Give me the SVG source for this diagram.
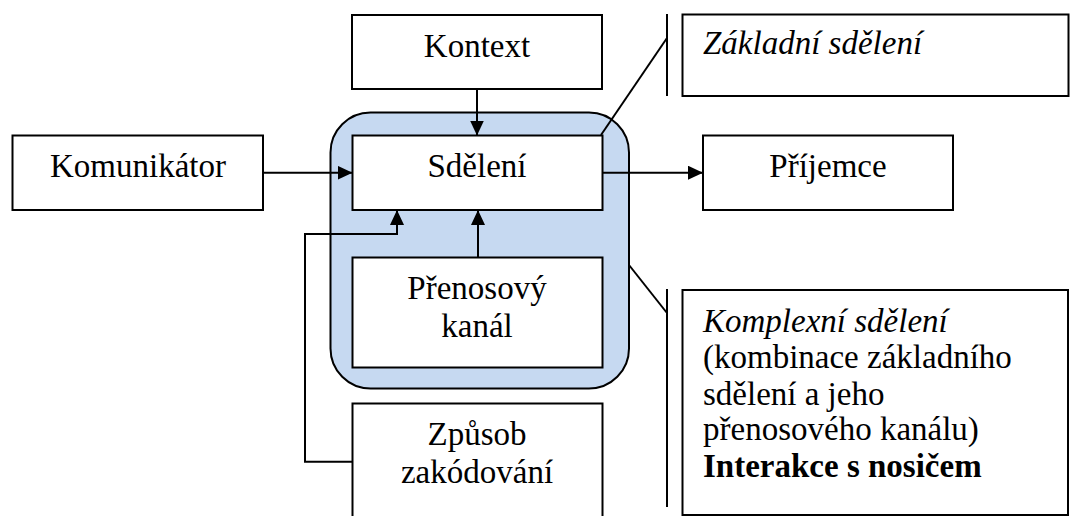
<svg xmlns="http://www.w3.org/2000/svg" width="1071" height="516" viewBox="0 0 1071 516">
<style>
.box{fill:#fff;stroke:#000;stroke-width:2}
.ln{fill:none;stroke:#000;stroke-width:2}
.t{font-family:"Liberation Serif","Times New Roman",serif;font-size:33px;fill:#000}
.c{text-anchor:middle}
.i{font-style:italic}
.b{font-weight:bold}
</style>
<defs>
<marker id="arr" markerUnits="userSpaceOnUse" markerWidth="15" markerHeight="14" refX="15" refY="7" orient="auto">
<path d="M0,0 L15,7 L0,14 z" fill="#000"/>
</marker>
</defs>
<rect width="1071" height="516" fill="#fff"/>
<g id="group-message">
<rect x="330.5" y="112.5" width="298.5" height="276" rx="40" ry="40" fill="#C6D9F1" stroke="#000" stroke-width="2"/>
</g>
<g id="kontext">
<rect class="box" x="352" y="15" width="250" height="74"/>
<text class="t c" x="477" y="57">Kontext</text>
</g>
<g id="komunikator">
<rect class="box" x="12.5" y="135.5" width="250.5" height="74.5"/>
<text class="t c" x="138" y="177">Komunikátor</text>
</g>
<g id="sdeleni">
<rect class="box" x="352.5" y="135.5" width="250" height="74.5"/>
<text class="t c" x="477" y="177">Sdělení</text>
</g>
<g id="prijemce">
<rect class="box" x="703" y="135.5" width="250" height="74.5"/>
<text class="t c" x="828" y="177">Příjemce</text>
</g>
<g id="prenosovy-kanal">
<rect class="box" x="352.5" y="257.5" width="250" height="110"/>
<text class="t c" x="477" y="299">Přenosový</text>
<text class="t c" x="477" y="337">kanál</text>
</g>
<g id="zpusob-zakodovani">
<rect class="box" x="352.5" y="403.5" width="250" height="120"/>
<text class="t c" x="477" y="445">Způsob</text>
<text class="t c" x="477" y="483">zakódování</text>
</g>
<g id="zakladni-sdeleni">
<rect class="box" x="682.5" y="14.5" width="386" height="81.5"/>
<text class="t i" x="703" y="54">Základní sdělení</text>
</g>
<g id="komplexni-sdeleni">
<rect class="box" x="682.5" y="290" width="385.5" height="225"/>
<text class="t i" x="703" y="332">Komplexní sdělení</text>
<text class="t" x="703" y="368">(kombinace základního</text>
<text class="t" x="703" y="405">sdělení a jeho</text>
<text class="t" x="703" y="440">přenosového kanálu)</text>
<text class="t b" x="703" y="477">Interakce s nosičem</text>
</g>
<g id="connectors">
<line class="ln" x1="477" y1="89" x2="477" y2="135.5" marker-end="url(#arr)"/>
<line class="ln" x1="263" y1="172.7" x2="352.5" y2="172.7" marker-end="url(#arr)"/>
<line class="ln" x1="602.5" y1="172.7" x2="703" y2="172.7" marker-end="url(#arr)"/>
<line class="ln" x1="478" y1="257.5" x2="478" y2="210" marker-end="url(#arr)"/>
<polyline class="ln" points="352.5,461.7 305,461.7 305,234 397,234 397,210" marker-end="url(#arr)"/>
<line class="ln" x1="601" y1="135" x2="667" y2="38"/>
<line class="ln" x1="667" y1="14" x2="667" y2="96"/>
<line class="ln" x1="629" y1="265" x2="667" y2="313"/>
<line class="ln" x1="667" y1="289" x2="667" y2="507"/>
</g>
</svg>
